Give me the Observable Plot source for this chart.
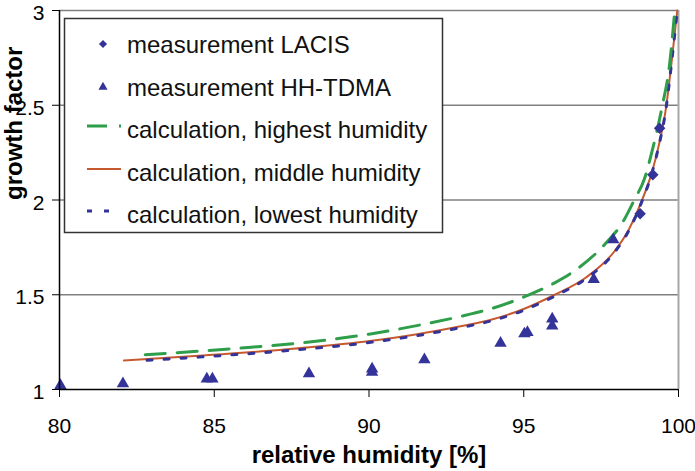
<!DOCTYPE html>
<html>
<head>
<meta charset="utf-8">
<script src="https://cdn.jsdelivr.net/npm/d3@7"></script>
<script src="https://cdn.jsdelivr.net/npm/@observablehq/plot@0.6"></script>
<style>
  html, body { margin: 0; padding: 0; background: #fff; }
  #chart { position: relative; width: 695px; height: 471px; font-family: "Liberation Sans", Arial, sans-serif; }
  #chart svg { display: block; }
</style>
</head>
<body>
<div id="chart"></div>
<script>
// Measured growth factors
const lacisRH = [98.76, 99.17, 99.39];
const lacisGF = [1.927, 2.133, 2.379];

const tdmaRH = [80.03, 82.05, 84.76, 84.94, 88.06, 90.10, 90.10, 91.79, 94.25, 95.02, 95.12, 95.92, 95.92, 97.26, 97.89];
const tdmaGF = [1.021, 1.031, 1.056, 1.056, 1.083, 1.109, 1.092, 1.157, 1.244, 1.294, 1.301, 1.373, 1.335, 1.581, 1.791];

// Calculated growth factors for three humidity settings
const highRH = [82.77, 84.5, 86.2, 88.0, 90.0, 91.7, 93.3, 94.0, 95.1, 96.0, 96.8, 97.6, 98.23, 98.57, 98.9, 99.15, 99.48, 99.70, 99.88];
const highGF = [1.184, 1.202, 1.223, 1.249, 1.292, 1.342, 1.399, 1.429, 1.495, 1.563, 1.645, 1.763, 1.892, 2.0, 2.112, 2.26, 2.5, 2.70, 3.0];

const midRH = [82.08, 84.5, 87.2, 89.9, 91.5, 93.0, 94.0, 95.0, 96.0, 97.0, 97.9, 98.4, 98.8, 99.15, 99.35, 99.6, 99.76, 99.96];
const midGF = [1.153, 1.178, 1.210, 1.253, 1.290, 1.335, 1.371, 1.425, 1.500, 1.590, 1.723, 1.846, 1.99, 2.151, 2.279, 2.49, 2.703, 3.0];

const lowRH = [82.83, 84.5, 87.2, 89.9, 91.5, 93.0, 94.0, 95.0, 96.0, 97.0, 97.9, 98.4, 98.8, 99.15, 99.35, 99.6, 99.76, 99.96];
const lowGF = [1.154, 1.171, 1.203, 1.246, 1.283, 1.328, 1.364, 1.418, 1.493, 1.584, 1.717, 1.840, 1.985, 2.147, 2.276, 2.487, 2.70, 3.0];

const xTicks = [80, 85, 90, 95, 100];
const yTicks = [1, 1.5, 2, 2.5, 3];
const gridLevels = [1.5, 2, 2.5, 3];

const seriesNames = [
  "measurement LACIS",
  "measurement HH-TDMA",
  "calculation, highest humidity",
  "calculation, middle humidity",
  "calculation, lowest humidity"
];
const xTitle = "relative humidity [%]";
const yTitle = "growth factor";

const navy = "#333399";
const green = "#2f9e4a";
const rust = "#c65a2e";
const fontFamily = '"Liberation Sans", Arial, sans-serif';

const toPoints = (xs, ys) => xs.map((x, i) => ({x, y: ys[i]}));
const lacis = toPoints(lacisRH, lacisGF);
const tdma = toPoints(tdmaRH, tdmaGF);
const high = toPoints(highRH, highGF);
const mid = toPoints(midRH, midGF);
const low = toPoints(lowRH, lowGF);

const plot = Plot.plot({
  width: 695,
  height: 471,
  marginLeft: 59,
  marginRight: 17,
  marginTop: 10,
  marginBottom: 82,
  style: {fontFamily, fontSize: "21px", color: "#000", background: "#fff", overflow: "visible"},
  x: {domain: [80, 100]},
  y: {domain: [1, 3]},
  marks: [
    Plot.ruleY(gridLevels, {stroke: "#808080", strokeWidth: 1.5}),
    Plot.ruleX([100], {stroke: "#a8a8a8", strokeWidth: 2}),
    Plot.line(mid, {x: "x", y: "y", stroke: rust, strokeWidth: 2, curve: "monotone-x"}),
    Plot.line(low, {x: "x", y: "y", stroke: navy, strokeWidth: 3, strokeDasharray: "5,12", curve: "monotone-x"}),
    Plot.line(high, {x: "x", y: "y", stroke: green, strokeWidth: 3, strokeDasharray: "20,12", curve: "monotone-x"}),
    Plot.dot(tdma, {x: "x", y: "y", symbol: "triangle", r: 4.6, fill: navy, stroke: "none"}),
    Plot.dot(lacis, {x: "x", y: "y", symbol: "diamond2", r: 5.2, fill: navy, stroke: "none"}),
    Plot.axisX({ticks: xTicks, tickSize: 8, tickPadding: 21, fontSize: 21, label: null, tickFormat: d => String(d)}),
    // y ticks, then their labels nudged slightly downward
    Plot.axisY({ticks: yTicks, tickSize: 7, label: null, tickFormat: () => ""}),
    Plot.axisY({ticks: yTicks, tickSize: 0, tickPadding: 15, dy: 3, fontSize: 21, label: null, tickFormat: d => String(d)}),
    Plot.ruleY([1], {stroke: "#000", strokeWidth: 1.5}),
    Plot.ruleX([80], {stroke: "#000", strokeWidth: 1.5}),
    Plot.text([xTitle], {text: d => d, frameAnchor: "bottom", dy: 73, lineAnchor: "bottom", fontSize: 24, fontWeight: "bold"}),
    Plot.text([yTitle], {text: d => d, frameAnchor: "left", dx: -38, rotate: -90, lineAnchor: "bottom", fontSize: 24, fontWeight: "bold"})
  ]
});

const chart = document.getElementById("chart");
chart.appendChild(plot);

// Legend box drawn over the upper-left part of the plot area
const legendBox = {x: 64, y: 18, w: 378, h: 214};
const legendBaselines = [53, 96, 138, 181, 223];
const legendTextX = 127;
const swatchX0 = 87, swatchX1 = 121, symbolX = 103;

const legend = d3.select(chart).append("svg")
  .attr("width", 695).attr("height", 471)
  .style("position", "absolute").style("left", "0px").style("top", "0px")
  .style("pointer-events", "none");

legend.append("rect")
  .attr("x", legendBox.x + 0.5).attr("y", legendBox.y + 0.5)
  .attr("width", legendBox.w).attr("height", legendBox.h)
  .attr("fill", "#fff").attr("stroke", "#333").attr("stroke-width", 1.5);

const swatches = [
  {type: "symbol", symbol: d3.symbolDiamond2, size: 42},
  {type: "symbol", symbol: d3.symbolTriangle, size: 36},
  {type: "line", stroke: green, width: 3, dash: "20,12"},
  {type: "line", stroke: rust, width: 2, dash: null},
  {type: "line", stroke: navy, width: 3, dash: "5,12"}
];

seriesNames.forEach((name, i) => {
  const base = legendBaselines[i];
  const s = swatches[i];
  if (s.type === "symbol") {
    legend.append("path")
      .attr("d", d3.symbol(s.symbol, s.size)())
      .attr("transform", `translate(${symbolX},${base - 9})`)
      .attr("fill", navy);
  } else {
    const ln = legend.append("line")
      .attr("x1", swatchX0).attr("x2", swatchX1)
      .attr("y1", base - 12).attr("y2", base - 12)
      .attr("stroke", s.stroke).attr("stroke-width", s.width);
    if (s.dash) ln.attr("stroke-dasharray", s.dash);
  }
  legend.append("text")
    .attr("x", legendTextX).attr("y", base)
    .attr("font-family", fontFamily).attr("font-size", 24)
    .attr("fill", "#111")
    .text(name);
});
</script>
</body>
</html>
